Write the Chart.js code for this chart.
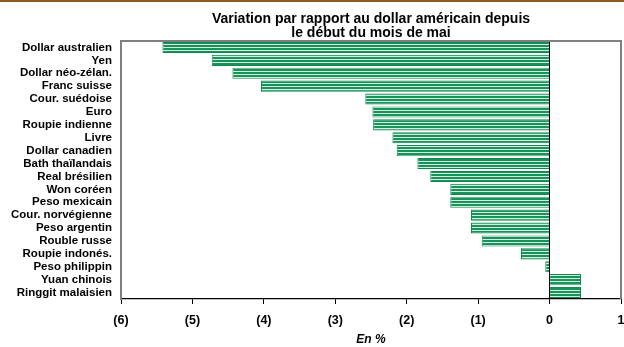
<!DOCTYPE html>
<html lang="fr">
<head>
  <meta charset="UTF-8">
  <title>Variation par rapport au dollar américain</title>
  <script src="https://cdn.jsdelivr.net/npm/chart.js"></script>
  <style>
    body { margin: 0; background: #fff; }
  </style>
</head>
<body>
  <canvas id="fxChart" width="624" height="347"></canvas>

  <script>
    // Data
    const currencies = ['Dollar australien', 'Yen', 'Dollar néo-zélan.', 'Franc suisse', 'Cour. suédoise',
      'Euro', 'Roupie indienne', 'Livre', 'Dollar canadien', 'Bath thaïlandais', 'Real brésilien',
      'Won coréen', 'Peso mexicain', 'Cour. norvégienne', 'Peso argentin', 'Rouble russe',
      'Roupie indonés.', 'Peso philippin', 'Yuan chinois', 'Ringgit malaisien'];
    const variation = [-5.42, -4.73, -4.44, -4.04, -2.58, -2.48, -2.47, -2.20, -2.14, -1.85, -1.67,
      -1.39, -1.39, -1.10, -1.10, -0.95, -0.40, -0.06, 0.44, 0.44];
    const tickValues = [-6, -5, -4, -3, -2, -1, 0, 1];
    const tickLabels = ['(6)', '(5)', '(4)', '(3)', '(2)', '(1)', '0', '1'];

    const FONT = "'Liberation Sans', Arial, sans-serif";

    // striped fill like the original
    function stripes() {
      const c = document.createElement('canvas');
      c.width = 4; c.height = 3;
      const g = c.getContext('2d');
      g.fillStyle = '#17925a';
      g.fillRect(0, 0, 4, 2);
      g.fillStyle = '#d4eee0';
      g.fillRect(0, 2, 4, 1);
      return g.createPattern(c, 'repeat');
    }

    // brown top strip + grey frame around the plot
    const frame = {
      id: 'frame',
      afterDraw(chart) {
        const { ctx, chartArea: a } = chart;
        ctx.save();
        ctx.fillStyle = '#8d5a1c';
        ctx.fillRect(0, 0, chart.width, 2);
        ctx.strokeStyle = '#808080';
        ctx.lineWidth = 2;
        ctx.beginPath();
        ctx.moveTo(a.left, a.top);
        ctx.lineTo(a.right, a.top);
        ctx.lineTo(a.right, a.bottom);
        ctx.stroke();
        ctx.restore();
      }
    };

    const ctx = document.getElementById('fxChart').getContext('2d');
    new Chart(ctx, {
      type: 'bar',
      data: {
        labels: currencies,
        datasets: [{
          data: variation,
          backgroundColor: stripes(),
          borderColor: '#0f8a4e',
          borderWidth: 1,
          barPercentage: 0.86,
          categoryPercentage: 1
        }]
      },
      options: {
        indexAxis: 'y',
        responsive: false,
        animation: false,
        layout: { padding: { top: 2, right: 3, left: 0, bottom: 0 } },
        plugins: {
          legend: { display: false },
          tooltip: { enabled: false },
          title: {
            display: true,
            fullSize: false,
            text: ['Variation par rapport au dollar américain depuis', 'le début du mois de mai'],
            color: '#000',
            font: { family: FONT, size: 14, weight: 'bold', lineHeight: 1 },
            padding: { top: 10, bottom: 1 }
          }
        },
        scales: {
          x: {
            min: -6,
            max: 1,
            z: 1,
            afterBuildTicks: scale => { scale.ticks = tickValues.map(v => ({ value: v })); },
            afterFit: scale => { scale.height = 48; scale.paddingRight = 0; },
            ticks: {
              color: '#000',
              padding: 9,
              font: { family: FONT, size: 12.5, weight: 'bold' },
              callback: (v, i) => tickLabels[i]
            },
            grid: {
              color: c => c.tick && c.tick.value === 0 ? '#000' : 'rgba(0,0,0,0)',
              tickColor: '#000',
              tickLength: 5,
              lineWidth: 1
            },
            border: { color: '#000', width: 1.2 },
            title: {
              display: true,
              text: 'En %',
              color: '#000',
              font: { family: FONT, size: 12, weight: 'bold', style: 'italic', lineHeight: 1.2 },
              padding: { top: 0, bottom: 0 }
            }
          },
          y: {
            afterFit: scale => { scale.width = 121; },
            ticks: {
              autoSkip: false,
              color: '#000',
              padding: 9,
              font: { family: FONT, size: 11.5, weight: 'bold' }
            },
            grid: { display: false, drawTicks: false },
            border: { color: '#808080', width: 2 }
          }
        }
      },
      plugins: [frame]
    });
  </script>
</body>
</html>
